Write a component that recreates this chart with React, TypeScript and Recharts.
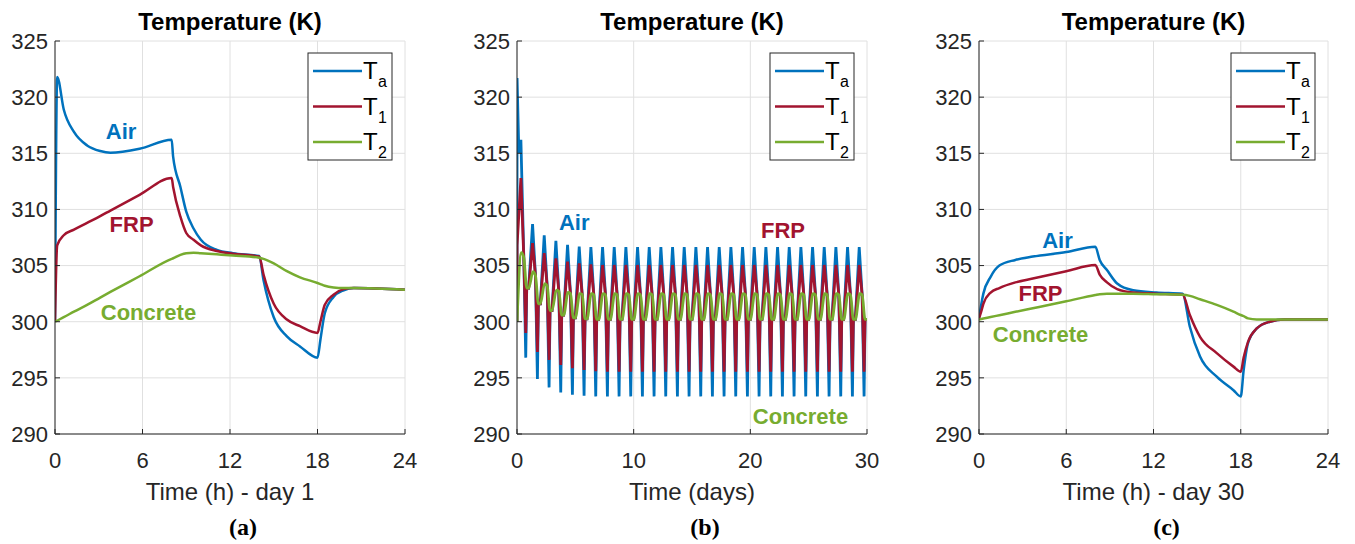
import React from "react";
import { LineChart, Line, XAxis, YAxis, CartesianGrid, ReferenceDot } from "recharts";

const FONT = '"Liberation Sans", Arial, Helvetica, sans-serif';
const SERIF = '"Liberation Serif", "Times New Roman", serif';
const BLUE = "#0072BD";
const RED = "#A2142F";
const GREEN = "#77AC30";
const INK = "#262626";
const GRID = "#e0e0e0";

const tempTicks = [290, 295, 300, 305, 310, 315, 320, 325];
const hourTicks = [0, 6, 12, 18, 24];
const dayTicks = [0, 10, 20, 30];

// (a) day 1, hourly keyframes
const hoursA = [0, 0.15, 0.6, 1.3, 2.2, 3.1, 3.8, 5.8, 8.0, 8.1, 8.6, 9.0, 9.5, 10.0, 11.1, 12.2, 14.0, 14.3, 15.0, 15.9, 16.8, 18.0, 18.2, 18.5, 19.1, 19.8, 20.5, 24];
const airA = [300, 321.8, 318.9, 316.9, 315.7, 315.2, 315.05, 315.4, 316.2, 314.7, 312.0, 309.8, 308.3, 307.3, 306.4, 306.1, 305.85, 303.7, 300.4, 298.7, 297.8, 296.8, 298.4, 300.75, 302.2, 302.8, 303.0, 302.85];
const frpA = [300, 306.8, 307.7, 308.2, 308.8, 309.4, 309.9, 311.3, 312.8, 312.0, 309.35, 307.9, 307.3, 306.8, 306.3, 306.05, 305.8, 304.2, 301.6, 300.2, 299.6, 299.0, 300.0, 301.5, 302.4, 302.9, 303.0, 302.85];
const concA = [300, 300.1, 300.4, 300.9, 301.5, 302.15, 302.65, 304.05, 305.6, 305.65, 305.95, 306.1, 306.15, 306.1, 306.0, 305.9, 305.7, 305.6, 305.2, 304.5, 303.95, 303.45, 303.35, 303.2, 303.05, 303.0, 303.0, 302.85];

// (c) day 30
const hoursC = [0, 0.15, 0.3, 0.8, 1.4, 2.5, 3.7, 6.0, 8.0, 8.3, 8.8, 9.5, 10.6, 12.2, 14.0, 14.5, 15.2, 16.35, 17.5, 18.0, 18.2, 18.5, 19.1, 20.0, 21.0, 24];
const airC = [300.3, 301.5, 302.5, 304.0, 305.0, 305.5, 305.8, 306.2, 306.68, 305.5, 304.6, 303.4, 302.8, 302.6, 302.5, 299.55, 296.9, 295.1, 293.9, 293.35, 295.7, 298.1, 299.4, 300.0, 300.2, 300.2];
const frpC = [300.3, 300.9, 301.6, 302.6, 303.0, 303.5, 303.85, 304.5, 305.05, 304.2, 303.5, 302.9, 302.6, 302.5, 302.4, 300.6, 298.66, 297.2, 296.0, 295.55, 296.8, 298.2, 299.4, 300.0, 300.2, 300.2];
const concC = [300.2, 300.24, 300.28, 300.42, 300.58, 300.88, 301.2, 301.82, 302.38, 302.45, 302.5, 302.5, 302.5, 302.45, 302.4, 302.3, 302.0, 301.5, 300.9, 300.6, 300.5, 300.3, 300.2, 300.2, 300.2, 300.2];

// (b) 30 days: per-day values read at 8h (peak), 18h (trough), 9h / 14h / 20h for concrete
const airPeakB = [316.2, 308.7, 307.7, 307.2, 306.85, 306.7, 306.65, 306.65, 306.65, 306.65, 306.65, 306.65, 306.65, 306.65, 306.65, 306.65, 306.65, 306.65, 306.65, 306.65, 306.65, 306.65, 306.65, 306.65, 306.65, 306.65, 306.65, 306.65, 306.65, 306.65];
const airTroughB = [296.8, 294.9, 294.15, 293.7, 293.5, 293.4, 293.35, 293.35, 293.35, 293.35, 293.35, 293.35, 293.35, 293.35, 293.35, 293.35, 293.35, 293.35, 293.35, 293.35, 293.35, 293.35, 293.35, 293.35, 293.35, 293.35, 293.35, 293.35, 293.35, 293.35];
const frpPeakB = [312.8, 307.0, 306.1, 305.65, 305.35, 305.2, 305.1, 305.05, 305.05, 305.05, 305.05, 305.05, 305.05, 305.05, 305.05, 305.05, 305.05, 305.05, 305.05, 305.05, 305.05, 305.05, 305.05, 305.05, 305.05, 305.05, 305.05, 305.05, 305.05, 305.05];
const frpTroughB = [299.0, 297.3, 296.6, 296.15, 295.85, 295.7, 295.6, 295.55, 295.55, 295.55, 295.55, 295.55, 295.55, 295.55, 295.55, 295.55, 295.55, 295.55, 295.55, 295.55, 295.55, 295.55, 295.55, 295.55, 295.55, 295.55, 295.55, 295.55, 295.55, 295.55];
const concPeakB = [306.15, 304.45, 303.4, 302.8, 302.6, 302.5, 302.5, 302.5, 302.5, 302.5, 302.5, 302.5, 302.5, 302.5, 302.5, 302.5, 302.5, 302.5, 302.5, 302.5, 302.5, 302.5, 302.5, 302.5, 302.5, 302.5, 302.5, 302.5, 302.5, 302.5];
const concMidB = [305.7, 304.1, 303.2, 302.7, 302.5, 302.45, 302.4, 302.4, 302.4, 302.4, 302.4, 302.4, 302.4, 302.4, 302.4, 302.4, 302.4, 302.4, 302.4, 302.4, 302.4, 302.4, 302.4, 302.4, 302.4, 302.4, 302.4, 302.4, 302.4, 302.4];
const concLowB = [303.0, 301.6, 301.0, 300.6, 300.35, 300.25, 300.2, 300.2, 300.2, 300.2, 300.2, 300.2, 300.2, 300.2, 300.2, 300.2, 300.2, 300.2, 300.2, 300.2, 300.2, 300.2, 300.2, 300.2, 300.2, 300.2, 300.2, 300.2, 300.2, 300.2];
// day-0 start of (b): [day, value]
const airStartB = [[0, 300], [0.00625, 321.7], [0.158, 315.05]];
const frpStartB = [[0, 300], [0.00625, 306.8]];
const concStartB = [[0, 300]];

const tableHours = (hours: number[], air: number[], frp: number[], conc: number[]) =>
  hours.map((t, i) => ({ t, air: air[i], frp: frp[i], conc: conc[i] }));

function buildDays(start: number[][], keys: [number, number[]][]) {
  const pts = start.map(([t, v]) => ({ t, v }));
  airPeakB.forEach((_, d) => {
    if (d > 0) pts.push({ t: d, v: concLowB[d - 1] });
    keys.forEach(([h, arr]) => pts.push({ t: d + h / 24, v: arr[d] }));
  });
  pts.push({ t: 30, v: concLowB[29] });
  return pts;
}

const dataA = tableHours(hoursA, airA, frpA, concA);
const dataC = tableHours(hoursC, airC, frpC, concC);
const airB = buildDays(airStartB, [[8, airPeakB], [14, concMidB], [18, airTroughB], [20, concLowB]]);
const frpB = buildDays(frpStartB, [[8, frpPeakB], [14, concMidB], [18, frpTroughB], [20, concLowB]]);
const concB = buildDays(concStartB, [[9, concPeakB], [14, concMidB], [20, concLowB]]);

const PLOT_TOP = 41;
const Y_W = 55;
const RIGHT_M = 26;

type Note = { x: number; y: number; text: string; color: string };

interface PanelProps {
  plotLeft: number;
  plotWidth: number;
  xMax: number;
  xTicks: number[];
  notes: Note[];
  children: React.ReactNode;
  data?: any[];
}

function Panel({ plotLeft, plotWidth, xMax, xTicks, notes, children, data }: PanelProps) {
  const tickStyle = { fill: INK, fontSize: 22, fontFamily: FONT };
  return (
    <div style={{ position: "absolute", left: plotLeft - Y_W, top: 0 }}>
      <LineChart
        width={Y_W + plotWidth + RIGHT_M}
        height={544}
        data={data}
        margin={{ top: PLOT_TOP, right: RIGHT_M, bottom: 80, left: 0 }}
      >
        <CartesianGrid stroke={GRID} strokeWidth={1} />
        <XAxis
          dataKey="t"
          type="number"
          domain={[0, xMax]}
          ticks={xTicks}
          interval={0}
          height={30}
          tickSize={-5}
          tickMargin={23}
          stroke={INK}
          tick={tickStyle}
          allowDataOverflow
        />
        <XAxis xAxisId="top" orientation="top" type="number" domain={[0, xMax]} ticks={xTicks}
          interval={0} height={0} mirror tick={false} tickSize={5} stroke={INK} allowDataOverflow />
        <YAxis
          type="number"
          domain={[290, 325]}
          ticks={tempTicks}
          interval={0}
          width={Y_W}
          tickSize={-5}
          tickMargin={12}
          stroke={INK}
          tick={tickStyle}
          allowDataOverflow
        />
        <YAxis yAxisId="right" orientation="right" type="number" domain={[290, 325]} ticks={tempTicks}
          interval={0} width={0} mirror tick={false} tickSize={5} stroke={INK} allowDataOverflow />
        {children}
        {notes.map((n) => (
          <ReferenceDot
            key={n.text}
            x={n.x}
            y={n.y}
            r={0}
            stroke="none"
            fill="none"
            label={{ value: n.text, position: "center", fill: n.color, fontSize: 22, fontWeight: "bold", fontFamily: FONT }}
          />
        ))}
      </LineChart>
    </div>
  );
}

const lineProps = { dot: false, strokeWidth: 2.5, isAnimationActive: false, activeDot: false } as const;
const lineBProps = { ...lineProps, strokeWidth: 2.8 } as const;

function Legend({ plotRight }: { plotRight: number }) {
  const x = plotRight - 97;
  const rows: [string, string, number][] = [["a", BLUE, 71], ["1", RED, 106.5], ["2", GREEN, 142]];
  return (
    <g>
      <rect x={x} y={53} width={84} height={107} fill="#fff" stroke={INK} strokeWidth={1} />
      {rows.map(([sub, color, y]) => (
        <g key={sub}>
          <line x1={x + 5} x2={x + 54} y1={y} y2={y} stroke={color} strokeWidth={2.5} />
          <text x={x + 55} y={y + 8} fontSize={24} fill="#000" fontFamily={FONT}>T</text>
          <text x={x + 70} y={y + 16} fontSize={16} fill="#000" fontFamily={FONT}>{sub}</text>
        </g>
      ))}
    </g>
  );
}

const panels = [
  { left: 55, width: 350, xlabel: "Time (h) - day 1", tag: "(a)" },
  { left: 517, width: 350, xlabel: "Time (days)", tag: "(b)" },
  { left: 979, width: 349, xlabel: "Time (h) - day 30", tag: "(c)" },
];

export default function App() {
  return (
    <div style={{ position: "absolute", left: 0, top: 0, width: 1355, height: 544, background: "#fff", overflow: "hidden" }}>
      <Panel plotLeft={55} plotWidth={350} xMax={24} xTicks={hourTicks} data={dataA}
        notes={[
          { x: 4.53, y: 316.98, text: "Air", color: BLUE },
          { x: 5.25, y: 308.7, text: "FRP", color: RED },
          { x: 6.41, y: 300.86, text: "Concrete", color: GREEN },
        ]}>
        <Line type="monotone" dataKey="air" stroke={BLUE} {...lineProps} />
        <Line type="monotone" dataKey="frp" stroke={RED} {...lineProps} />
        <Line type="monotone" dataKey="conc" stroke={GREEN} {...lineProps} />
      </Panel>
      <Panel plotLeft={517} plotWidth={350} xMax={30} xTicks={dayTicks}
        notes={[
          { x: 4.9, y: 308.88, text: "Air", color: BLUE },
          { x: 22.8, y: 308.17, text: "FRP", color: RED },
          { x: 24.3, y: 291.6, text: "Concrete", color: GREEN },
        ]}>
        <Line type="linear" data={airB} dataKey="v" stroke={BLUE} {...lineBProps} />
        <Line type="linear" data={frpB} dataKey="v" stroke={RED} {...lineBProps} />
        <Line type="monotone" data={concB} dataKey="v" stroke={GREEN} {...lineBProps} />
      </Panel>
      <Panel plotLeft={979} plotWidth={349} xMax={24} xTicks={hourTicks} data={dataC}
        notes={[
          { x: 5.4, y: 307.28, text: "Air", color: BLUE },
          { x: 4.23, y: 302.56, text: "FRP", color: RED },
          { x: 4.23, y: 298.9, text: "Concrete", color: GREEN },
        ]}>
        <Line type="monotone" dataKey="air" stroke={BLUE} {...lineProps} />
        <Line type="monotone" dataKey="frp" stroke={RED} {...lineProps} />
        <Line type="monotone" dataKey="conc" stroke={GREEN} {...lineProps} />
      </Panel>
      <svg width={1355} height={544} style={{ position: "absolute", left: 0, top: 0, pointerEvents: "none" }}>
        {panels.map((p) => {
          const cx = p.left + p.width / 2;
          return (
            <g key={p.tag}>
              <text x={cx} y={30} textAnchor="middle" fontSize={24} fontWeight="bold" fill="#000" fontFamily={FONT}>
                Temperature (K)
              </text>
              <text x={cx} y={500} textAnchor="middle" fontSize={24} fill={INK} fontFamily={FONT}>
                {p.xlabel}
              </text>
              <text x={cx + 13} y={535} textAnchor="middle" fontSize={24} fontWeight="bold" fill="#000" fontFamily={SERIF}>
                {p.tag}
              </text>
              <Legend plotRight={p.left + p.width} />
            </g>
          );
        })}
      </svg>
    </div>
  );
}
